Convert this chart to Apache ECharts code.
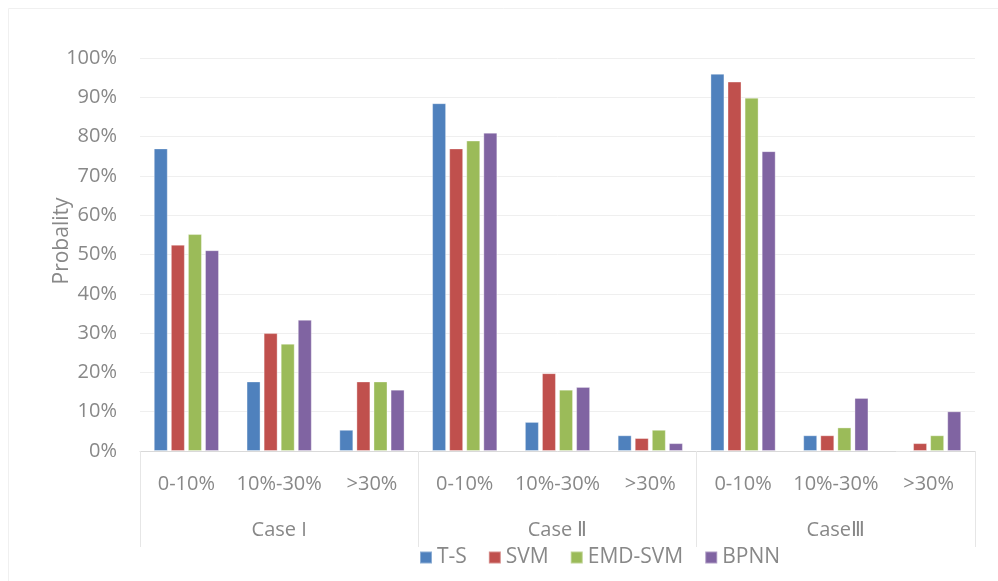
<!DOCTYPE html>
<html>
<head>
<meta charset="utf-8">
<script src="https://cdn.jsdelivr.net/npm/echarts@6/dist/echarts.min.js"></script>
<style>
html,body{margin:0;padding:0;background:#fff;}
#c{width:998px;height:581px;}
</style>
</head>
<body>
<div id="c"></div>
<script>
var subCategories = ['0-10%', '10%-30%', '>30%', '0-10%', '10%-30%', '>30%', '0-10%', '10%-30%', '>30%'];
var groupCategories = ['Case I', 'Case Ⅱ', 'CaseⅢ'];
var yTicks = [0, 0.1, 0.2, 0.3, 0.4, 0.5, 0.6, 0.7, 0.8, 0.9, 1.0];
var seriesNames = ['T-S', 'SVM', 'EMD-SVM', 'BPNN'];
var tsValues     = [0.770, 0.177, 0.054, 0.885, 0.074, 0.040, 0.960, 0.040, 0.000];
var svmValues    = [0.525, 0.300, 0.177, 0.770, 0.198, 0.033, 0.940, 0.040, 0.020];
var emdSvmValues = [0.552, 0.273, 0.177, 0.790, 0.156, 0.054, 0.899, 0.060, 0.040];
var bpnnValues   = [0.511, 0.334, 0.156, 0.810, 0.163, 0.020, 0.763, 0.135, 0.101];
var seriesColors = ['#4F81BD', '#C0504D', '#9BBB59', '#8064A2'];

var FONT = 'Open Sans';
var TXT = '#888888';
var allValues = [tsValues, svmValues, emdSvmValues, bpnnValues];

var chart = echarts.init(document.getElementById('c'));
chart.setOption({
  animation: false,
  backgroundColor: '#ffffff',
  textStyle: { fontFamily: FONT },
  graphic: [
    { type: 'rect', shape: { x: 8.5, y: 8.5, width: 1000, height: 600 }, style: { fill: 'none', stroke: '#f0f0f0', lineWidth: 1 }, silent: true },
    { type: 'text', x: 62, y: 241, rotation: Math.PI / 2,
      style: { text: 'Probality', fontFamily: FONT, fontSize: 21, fill: TXT, textAlign: 'center', textVerticalAlign: 'middle' } }
  ],
  legend: {
    data: seriesNames,
    left: 419, top: 547, padding: 0,
    itemWidth: 12, itemHeight: 12, itemGap: 21,
    icon: 'rect',
    textStyle: { fontFamily: FONT, fontSize: 21, color: TXT }
  },
  grid: { left: 140, right: 23, top: 58, bottom: 130, containLabel: false },
  xAxis: [
    {
      type: 'category', data: subCategories, position: 'bottom',
      axisLine: { show: true, lineStyle: { color: '#d9d9d9', width: 1 } },
      axisTick: { show: false },
      axisLabel: { margin: 23, fontFamily: FONT, fontSize: 20, color: TXT, interval: 0 }
    },
    {
      type: 'category', data: groupCategories, position: 'bottom',
      axisLine: { show: false },
      axisTick: { show: true, length: 96, lineStyle: { color: '#e6e6e6' } },
      axisLabel: { margin: 69, fontFamily: FONT, fontSize: 20, color: TXT, interval: 0 }
    }
  ],
  yAxis: {
    type: 'value', min: 0, max: 1, interval: 0.1,
    axisLine: { show: false }, axisTick: { show: false },
    splitLine: { lineStyle: { color: '#efefef', width: 1 } },
    axisLabel: {
      margin: 23, fontFamily: FONT, fontSize: 20, color: TXT,
      formatter: function (v) { return Math.round(v * 100) + '%'; }
    }
  },
  series: seriesNames.map(function (name, i) {
    return {
      name: name, type: 'bar', xAxisIndex: 0,
      data: allValues[i],
      barWidth: 14, barGap: '22%',
      itemStyle: { color: seriesColors[i], borderColor: 'rgba(255,255,255,0.35)', borderWidth: 1 }
    };
  })
});
</script>
</body>
</html>
